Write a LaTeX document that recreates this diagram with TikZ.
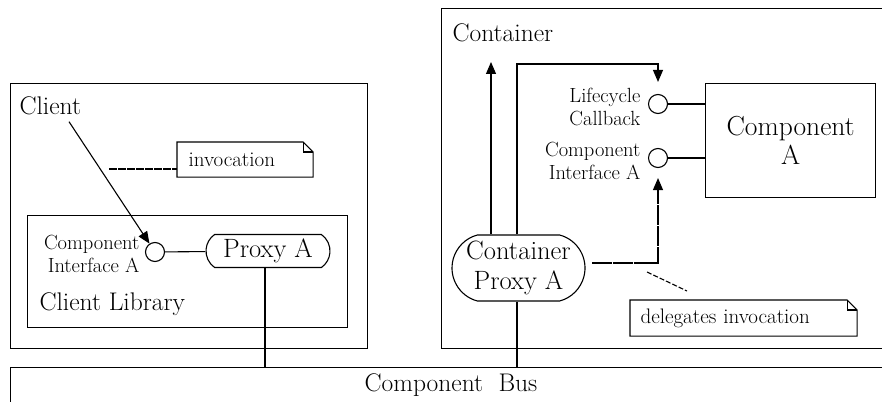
\documentclass[tikz,border=0pt]{standalone}
\usepackage{fontspec}
\usetikzlibrary{shapes.misc,arrows.meta}
\newcommand\fsz[2]{\fontsize{#1}{#2}\selectfont}
% UML note outline with a folded top-right corner
\newcommand\notefold[1]{%
  \draw (#1.north west) -- ([xshift=-10pt]#1.north east) -- ([yshift=-10pt]#1.north east)
        -- (#1.south east) -- (#1.south west) -- cycle;
  \draw ([xshift=-10pt]#1.north east) |- ([yshift=-10pt]#1.north east);}
\begin{document}
\begin{tikzpicture}[x=1pt,y=-1pt,line width=1.1pt,
  frame/.style={draw,rectangle,inner sep=0pt,anchor=north west},
  biglabel/.style={inner sep=0pt,font=\fsz{25.5}{30}},
  smalllabel/.style={inner sep=0pt,align=right,anchor=east,font=\fsz{20.5}{23}},
  iface/.style={draw,circle,minimum size=19pt,inner sep=0pt},
  proxy/.style={draw,rounded rectangle,rounded rectangle arc length=110,inner sep=0pt,
                align=center,font=\fsz{26.5}{30}},
  notebox/.style={inner xsep=10pt,inner ysep=0pt,anchor=north west,align=left,font=\fsz{21}{24}},
  arrow/.style={-{Triangle[length=12pt,width=10pt]}},
  notelink/.style={dash pattern=on 5pt off 2pt},
  sparse/.style={dash pattern=on 20pt off 0.8pt}]
\useasboundingbox (0,0) rectangle (882,401);

% ---- client side ----
\node[frame,minimum width=357pt,minimum height=265pt] (clientside) at (10,83) {};
\node[frame,minimum width=320pt,minimum height=112pt] (clientlib) at (27,215) {};
\node[biglabel,anchor=west] (client) at (19,106) {Client};
\node[biglabel,anchor=west] (libname) at (39,304) {Client Library};
\node[notebox,minimum width=135pt,minimum height=34pt,text width=113pt] (inote) at (177,142) {invocation};
\notefold{inote}
\coordinate (ilink) at (109,169);
\draw[notelink,dash pattern=on 8pt off 1pt] (ilink) -- (ilink -| inote.west);

\node[iface] (ifL) at (155,252) {};
\node[smalllabel] (ifLtext) at ([xshift=-5pt,yshift=-2pt]ifL.west) {Component\\Interface A};
\node[proxy,minimum width=124pt,minimum height=33pt] (proxyA) at (268,251) {Proxy A};
\draw (ifL) -- (proxyA);
\draw[arrow] ([xshift=50pt,yshift=-6pt]client.south west) -- (ifL);

% ---- container side ----
\node[frame,minimum width=450pt,minimum height=340pt] (container) at (441,8) {};
\node[biglabel,anchor=west] (contname) at (452,33) {Container};
\node[frame,minimum width=170pt,minimum height=114pt,align=center,font=\fsz{27.5}{29}] (compA) at (705,83) {Component\\A};
\node[iface] (ifLC) at (658,104) {};
\node[iface] (ifCI) at (658,158) {};
\node[smalllabel] (lctext) at ([xshift=-7pt,yshift=-3pt]ifLC.west) {Lifecycle\\Callback};
\node[smalllabel] (citext) at ([xshift=-7pt,yshift=-3pt]ifCI.west) {Component\\Interface A};
\draw (ifLC) -- (ifLC -| compA.west);
\draw (ifCI) -- (ifCI -| compA.west);

\node[proxy,rounded rectangle arc length=150,minimum width=133pt,minimum height=66pt] (cproxy) at (518.5,268) {Container\\Proxy A};
\coordinate (upA) at (491,62);
\draw[arrow] (cproxy.north -| upA) -- (upA);
\coordinate (upB) at (517,64);
\draw[arrow] (cproxy.north -| upB) -- (upB) -| ([yshift=12pt]ifLC.north);
\coordinate (dstart) at (592,263);
\draw[sparse] (dstart) -| ([yshift=-22pt]ifCI.south);
\draw[arrow] ([yshift=-22pt]ifCI.south) -- ([yshift=-10pt]ifCI.south);

\node[notebox,minimum width=226pt,minimum height=35pt,text width=206pt] (dnote) at (630,300) {delegates invocation};
\notefold{dnote}
\coordinate (dl) at (647,272);
\coordinate (dr) at (687,291);
\draw[notelink] (dl) -- (dr);

% ---- bus ----
\node[frame,minimum width=890pt,minimum height=50pt] (bus) at (10,367) {};
\node[biglabel] (busname) at (451,385) {Component\hspace{0.6em}Bus};
\coordinate (pa) at (265,0);
\draw (proxyA.south -| pa) -- (bus.north -| pa);
\draw (cproxy.south -| upB) -- (bus.north -| upB);
\end{tikzpicture}
\end{document}
